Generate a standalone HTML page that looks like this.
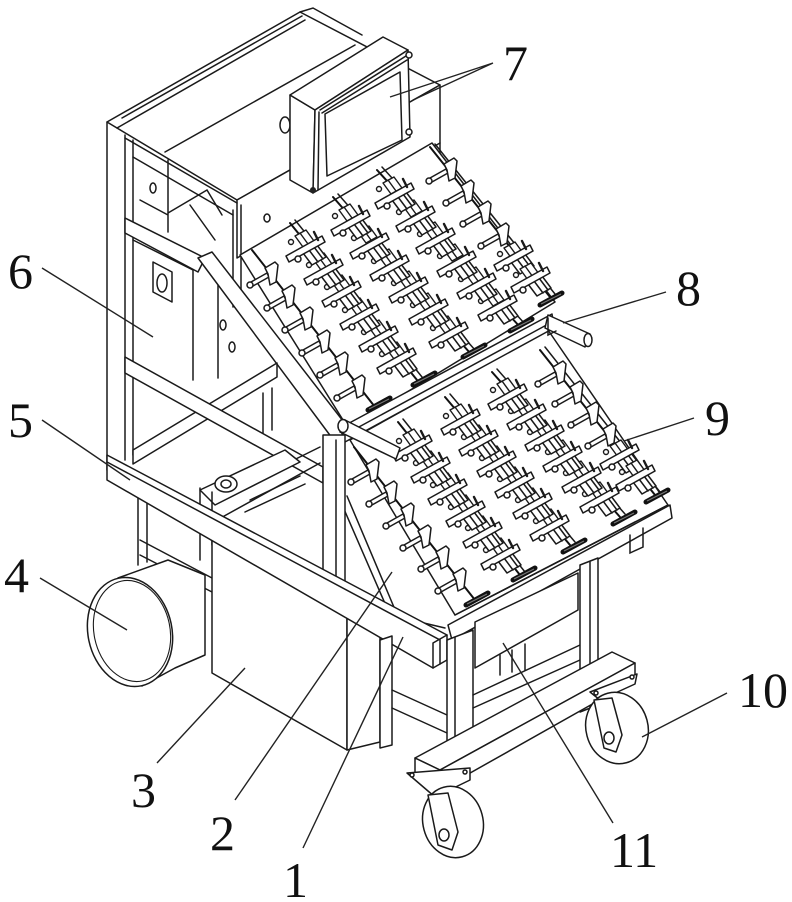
<!DOCTYPE html>
<html><head><meta charset="utf-8"><style>
html,body{margin:0;padding:0;background:#fff;}
svg{display:block;}
.s{fill:#fff;stroke:#1a1a1a;stroke-width:1.5;stroke-linejoin:round;stroke-linecap:round;}
.l{fill:none;stroke:#1a1a1a;stroke-width:1.5;stroke-linecap:round;}
.r{fill:none;stroke:#111;stroke-width:2;stroke-linecap:round;}
.t{fill:none;stroke:#1a1a1a;stroke-width:1.1;}
.lab{font-family:"Liberation Serif",serif;font-size:50px;fill:#111;}
.ld{fill:none;stroke:#222;stroke-width:1.4;}
</style></head><body>
<svg width="792" height="902" viewBox="0 0 792 902" xmlns="http://www.w3.org/2000/svg">
<defs>
 <g id="fx" class="s" style="stroke-width:1.5">
  <path d="M-17,10 L-1,1 L1,5 L-15,14 Z"/>
  <path d="M-3,-4 L7,-10 L10,-7 L8,10 L2,13 L0,2 Z"/>
  <circle cx="-18" cy="13" r="3"/>
 </g>
 <g id="cl" class="s" style="stroke-width:1.5">
  <path d="M-8,4 L6,-4 L18,12 L4,20 Z"/>
  <path d="M-2,1 L10,17 M3,-2 L15,14"/>
  <path d="M-22,11 L14,-9 L17,-3 L-19,17 Z"/>
  <circle cx="-10" cy="14" r="3"/>
  <path d="M6,-13 L10,-5" style="stroke-width:2.4"/>
 </g>
 <g id="blk" class="s" style="stroke-width:1.4">
  <path d="M-4,2 L7,-4 L15,7 L4,13 Z"/>
  <path d="M1,-1 L9,10"/>
  <circle cx="-8" cy="8" r="2.5"/>
 </g>
 <g id="ep">
  <path d="M-12,5 L10,-7" style="stroke:#111;stroke-width:5;stroke-linecap:round"/>
  <path d="M-11,4 L9,-6" style="stroke:#777;stroke-width:1.2"/>
 </g>
</defs>
<rect width="792" height="902" fill="#fff"/>

<!-- ===== Cabinet ===== -->
<polygon class="s" points="107,122 300,12 440,85 237,200"/>
<path class="l" d="M117,128 L305,20 M165,152 L355,45 M300,12 L313,8 L362,35 M122,118 L302,16"/>
<polygon class="s" points="237,200 440,85 440,143 237,258"/>
<ellipse class="s" cx="267" cy="218" rx="3" ry="4"/>
<ellipse class="s" cx="285" cy="125" rx="5" ry="8"/>
<path class="l" d="M428,148 L428,165 L440,158 L440,143"/>

<!-- left frame -->
<path class="l" d="M107,122 L107,470 M125,135 L125,460 M133,140 L133,455"/>
<path class="l" d="M125,138 L237,203 M133,157 L233,215"/>
<path class="l" d="M233,210 L233,307 M241,205 L241,303"/>
<path class="l" d="M168,160 L168,232 M168,213 L207,190 L222,215 M140,200 L168,215 M190,205 L215,240"/>
<ellipse class="s" cx="153" cy="188" rx="3" ry="5"/>
<!-- panel 6 -->
<path class="l" d="M193,268 L193,380 M218,275 L218,378 M133,240 L193,270"/>
<polygon class="s" points="153,262 172,272 172,302 153,292"/>
<ellipse class="s" cx="162" cy="283" rx="5" ry="9"/>
<ellipse class="s" cx="223" cy="325" rx="3" ry="5"/>
<ellipse class="s" cx="232" cy="347" rx="3" ry="5"/>
<!-- mid beam -->
<polygon class="s" points="125,218 205,258 198,272 125,233"/>

<!-- ===== Upper tray ===== -->
<polygon class="s" points="240,255 432,143 555,302 348,428"/>
<path class="r" d="M252,250 L375,407 M290,223 L417,380 M333,197 L470,353 M377,170 L520,327 M430,147 L550,297"/>
<path class="l" d="M295,220 L422,377 M338,194 L475,350 M382,167 L525,324 M435,144 L555,294"/>
<!-- rail 1 -->
<use href="#fx" x="268" y="272"/><use href="#fx" x="285" y="295"/><use href="#fx" x="303" y="317"/><use href="#fx" x="320" y="340"/><use href="#fx" x="338" y="362"/><use href="#fx" x="355" y="385"/>
<!-- rail 2 -->
<use href="#blk" x="299" y="234"/><use href="#blk" x="317" y="257"/><use href="#blk" x="335" y="279"/><use href="#blk" x="353" y="302"/><use href="#blk" x="372" y="324"/><use href="#blk" x="390" y="346"/>
<use href="#cl" x="308" y="245"/><use href="#cl" x="326" y="268"/><use href="#cl" x="344" y="290"/><use href="#cl" x="362" y="313"/><use href="#cl" x="381" y="335"/><use href="#cl" x="399" y="357"/>
<!-- rail 3 -->
<use href="#blk" x="343" y="208"/><use href="#blk" x="362" y="230"/><use href="#blk" x="382" y="253"/><use href="#blk" x="402" y="275"/><use href="#blk" x="421" y="297"/><use href="#blk" x="441" y="320"/>
<use href="#cl" x="353" y="219"/><use href="#cl" x="372" y="242"/><use href="#cl" x="392" y="264"/><use href="#cl" x="411" y="286"/><use href="#cl" x="431" y="308"/><use href="#cl" x="451" y="331"/>
<!-- rail 4 -->
<use href="#blk" x="387" y="181"/><use href="#blk" x="407" y="204"/><use href="#blk" x="428" y="226"/><use href="#blk" x="448" y="248"/><use href="#blk" x="469" y="271"/><use href="#blk" x="489" y="293"/>
<use href="#cl" x="397" y="192"/><use href="#cl" x="418" y="215"/><use href="#cl" x="438" y="237"/><use href="#cl" x="459" y="260"/><use href="#cl" x="479" y="282"/><use href="#cl" x="500" y="304"/>
<!-- rail 5 -->
<use href="#fx" x="447" y="168"/><use href="#fx" x="464" y="190"/><use href="#fx" x="481" y="211"/><use href="#fx" x="499" y="233"/>
<use href="#blk" x="508" y="246"/><use href="#cl" x="516" y="254"/><use href="#blk" x="524" y="267"/><use href="#cl" x="533" y="276"/>
<use href="#ep" x="380" y="405"/><use href="#ep" x="425" y="380"/><use href="#ep" x="475" y="352"/><use href="#ep" x="522" y="326"/><use href="#ep" x="552" y="300"/>

<!-- diagonal beam -->
<polygon class="s" points="198,258 212,252 350,430 335,442"/>

<!-- cross beam back -->
<polygon class="s" points="133,450 277,363 277,377 133,464"/>
<path class="l" d="M263,393 L263,433 M272,388 L272,430"/>
<!-- lower mid diagonal beam -->
<polygon class="s" points="125,357 323,467 323,483 125,373"/>

<!-- motor / reducer -->
<path class="l" d="M213,500 L320,447 M217,520 L320,463"/>
<polygon class="s" points="200,490 285,450 300,462 215,505"/>
<ellipse class="s" cx="226" cy="484" rx="11" ry="8"/>
<ellipse class="s" cx="226" cy="484" rx="5" ry="4"/>
<path class="l" d="M250,500 L300,476 M245,512 L305,484"/>

<!-- ===== Lower tray ===== -->
<polygon class="s" points="350,440 548,330 668,505 455,615"/>
<path class="r" d="M354,447 L475,600 M398,422 L520,575 M445,397 L570,545 M492,372 L620,517 M540,350 L655,495"/>
<path class="l" d="M403,419 L525,572 M450,394 L575,542 M497,369 L625,514 M545,347 L660,492"/>
<!-- L1 -->
<use href="#fx" x="369" y="469"/><use href="#fx" x="387" y="491"/><use href="#fx" x="404" y="513"/><use href="#fx" x="421" y="535"/><use href="#fx" x="439" y="556"/><use href="#fx" x="456" y="578"/>
<!-- L2 -->
<use href="#blk" x="407" y="433"/><use href="#blk" x="424" y="455"/><use href="#blk" x="441" y="477"/><use href="#blk" x="459" y="499"/><use href="#blk" x="476" y="520"/><use href="#blk" x="494" y="542"/>
<use href="#cl" x="415" y="444"/><use href="#cl" x="433" y="466"/><use href="#cl" x="450" y="488"/><use href="#cl" x="468" y="510"/><use href="#cl" x="485" y="531"/><use href="#cl" x="503" y="553"/>
<!-- L3 -->
<use href="#blk" x="454" y="408"/><use href="#blk" x="472" y="429"/><use href="#blk" x="490" y="450"/><use href="#blk" x="508" y="471"/><use href="#blk" x="526" y="492"/><use href="#blk" x="544" y="513"/>
<use href="#cl" x="463" y="418"/><use href="#cl" x="481" y="439"/><use href="#cl" x="499" y="460"/><use href="#cl" x="517" y="481"/><use href="#cl" x="535" y="502"/><use href="#cl" x="552" y="524"/>
<!-- L4 -->
<use href="#blk" x="501" y="382"/><use href="#blk" x="519" y="403"/><use href="#blk" x="538" y="424"/><use href="#blk" x="556" y="444"/><use href="#blk" x="574" y="465"/><use href="#blk" x="593" y="486"/>
<use href="#cl" x="510" y="393"/><use href="#cl" x="529" y="413"/><use href="#cl" x="547" y="434"/><use href="#cl" x="565" y="455"/><use href="#cl" x="584" y="476"/><use href="#cl" x="602" y="496"/>
<!-- L5 -->
<use href="#fx" x="556" y="371"/><use href="#fx" x="573" y="391"/><use href="#fx" x="589" y="412"/><use href="#fx" x="606" y="433"/>
<use href="#blk" x="614" y="444"/><use href="#cl" x="622" y="453"/><use href="#blk" x="630" y="464"/><use href="#cl" x="638" y="474"/>
<use href="#ep" x="478" y="600"/><use href="#ep" x="525" y="575"/><use href="#ep" x="575" y="547"/><use href="#ep" x="625" y="519"/><use href="#ep" x="658" y="497"/>

<!-- upper tray front beam + rods -->
<polygon class="s" points="340,428 552,314 554,328 345,442"/>
<path class="l" d="M346,434 L552,322"/>
<polygon class="s" points="548,315 590,334 585,347 545,328"/>
<ellipse class="s" cx="588" cy="340" rx="4" ry="6.5"/>
<path class="l" d="M548,318 L548,335 L556,331"/>
<polygon class="s" points="345,420 400,448 396,459 340,432"/>
<ellipse class="s" cx="343" cy="426" rx="5" ry="6.5"/>

<!-- lower tray side plate & lip -->
<path class="l" d="M340,500 L390,615 M347,496 L396,612 M390,615 L445,628"/>
<polygon class="s" points="448,625 670,505 672,518 452,640"/>
<path class="l" d="M455,615 L668,505"/>
<path class="l" d="M630,535 L630,553 L643,547 L643,528"/>

<!-- vertical post under diagonal -->
<polygon class="s" points="323,435 345,435 345,600 323,600"/>
<path class="l" d="M336,440 L336,600"/>

<!-- lower-left frame -->
<path class="l" d="M138,478 L138,565 M147,482 L147,562 M200,488 L200,560 M212,492 L212,545"/>
<path class="l" d="M140,540 L212,578 M140,555 L212,592"/>

<!-- cylinder 4 -->
<path class="s" d="M118,578 L168,560 L205,575 L205,655 L175,668 L142,686 Z"/>
<ellipse class="s" cx="130" cy="632" rx="42" ry="55" transform="rotate(-12 130 632)"/>
<ellipse class="t" cx="132" cy="631" rx="38" ry="51" transform="rotate(-12 132 631)"/>

<!-- box 3 -->
<polygon class="s" points="212,540 347,613 347,750 212,673"/>
<polygon class="s" points="347,613 380,625 380,742 347,750"/>

<!-- big lower beam 5 -->
<polygon class="s" points="107,455 447,635 447,660 433,668 107,480"/>
<path class="l" d="M107,462 L440,640 L440,664 M433,643 L433,668 M433,643 L447,635"/>

<!-- back-left legs & crossbars -->
<polygon class="s" points="380,640 392,636 392,745 380,748"/>
<path class="l" d="M392,690 L447,715 M392,708 L447,733"/>

<!-- front legs -->
<polygon class="s" points="447,640 473,630 473,760 447,770"/>
<path class="l" d="M455,637 L455,767"/>
<!-- bin 11 -->
<polygon class="s" points="475,622 578,573 578,610 475,668"/>
<path class="l" d="M500,655 L500,675 M512,650 L512,672 M525,644 L525,670"/>
<path class="l" d="M473,695 L580,645 M473,708 L580,660"/>
<polygon class="s" points="580,565 598,558 598,705 580,712"/>
<path class="l" d="M590,562 L590,708"/>

<!-- base beam -->
<polygon class="s" points="415,758 612,652 635,663 440,770"/>
<polygon class="s" points="440,770 635,663 635,680 440,790"/>
<polygon class="s" points="415,758 440,770 440,790 415,778"/>

<!-- casters -->
<polygon class="s" points="590,692 637,674 635,684 600,700"/>
<circle class="s" cx="596" cy="693" r="2"/><circle class="s" cx="632" cy="677" r="2"/>
<ellipse class="s" cx="617" cy="728" rx="31" ry="36" transform="rotate(-15 617 728)"/>
<path class="s" d="M594,700 L604,748 L616,752 L622,735 L612,698 Z"/>
<ellipse class="s" cx="609" cy="738" rx="5" ry="6"/>

<polygon class="s" points="407,773 470,768 470,780 435,797"/>
<circle class="s" cx="412" cy="775" r="2"/><circle class="s" cx="465" cy="772" r="2"/>
<ellipse class="s" cx="453" cy="822" rx="30" ry="36" transform="rotate(-15 453 822)"/>
<path class="s" d="M428,795 L438,845 L452,850 L458,832 L448,793 Z"/>
<ellipse class="s" cx="444" cy="835" rx="5" ry="6"/>

<!-- control panel 7 -->
<polygon class="s" points="290,95 315,110 313,193 290,180"/>
<polygon class="s" points="290,95 383,37 408,50 315,110"/>
<polygon class="s" points="315,110 408,50 410,137 313,193"/>
<path class="l" d="M320,110 L406,56 M322,113 L407,60 M319,112 L318,190"/>
<polygon class="s" points="325,114 400,72 402,140 327,176"/>
<circle class="s" cx="409" cy="55" r="3"/><circle class="s" cx="409" cy="132" r="3"/>
<circle cx="313" cy="190" r="3" fill="#222"/>

<!-- leaders -->
<path class="ld" d="M493,63 L390,97 M493,63 L413,100"/>
<path class="ld" d="M666,292 L563,323"/>
<path class="ld" d="M694,418 L624,441"/>
<path class="ld" d="M42,268 L153,337"/>
<path class="ld" d="M42,420 L130,480"/>
<path class="ld" d="M40,578 L127,630"/>
<path class="ld" d="M157,763 L245,668"/>
<path class="ld" d="M235,800 L392,572"/>
<path class="ld" d="M303,848 L403,637"/>
<path class="ld" d="M613,823 L503,643"/>
<path class="ld" d="M727,693 L642,737"/>

<!-- labels -->
<text class="lab" x="503" y="80">7</text>
<text class="lab" x="676" y="305">8</text>
<text class="lab" x="8" y="288">6</text>
<text class="lab" x="8" y="437">5</text>
<text class="lab" x="705" y="435">9</text>
<text class="lab" x="4" y="592">4</text>
<text class="lab" x="738" y="707">10</text>
<text class="lab" x="131" y="807">3</text>
<text class="lab" x="210" y="850">2</text>
<text class="lab" x="610" y="867">11</text>
<text class="lab" x="283" y="897">1</text>
</svg>
</body></html>
